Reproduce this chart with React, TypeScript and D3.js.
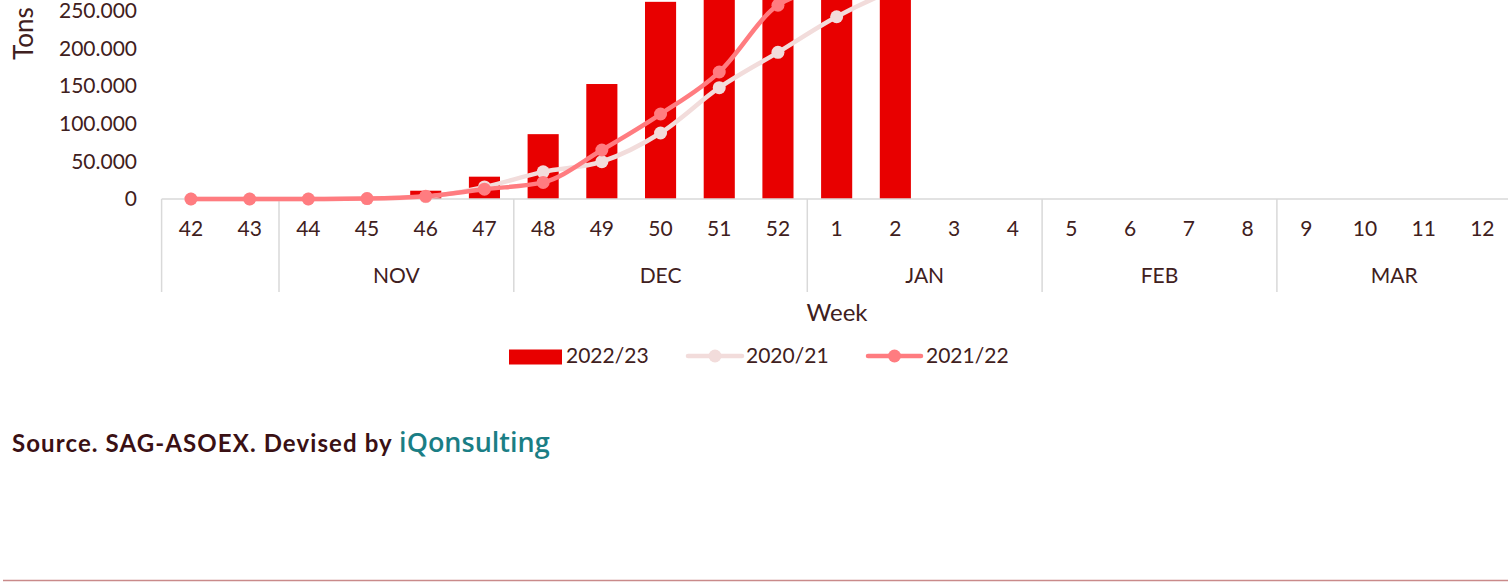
import React from "react";
import * as d3 from "d3";

const weeks = ["42","43","44","45","46","47","48","49","50","51","52","1","2","3","4","5","6","7","8","9","10","11","12"];
const months = ["", "NOV", "DEC", "JAN", "FEB", "MAR"];
const monthWeekCounts = [2, 4, 5, 4, 4, 4];
const yTicks = [0, 50000, 100000, 150000, 200000, 250000];

const season2223: (number | null)[] = [0, 0, 0, 0, 11000, 29600, 86000, 152500, 261500, 330000, 390000, 440000, 470000, null, null, null, null, null, null, null, null, null, null];
const season2021: number[] = [0, 0, 0, 500, 3000, 16000, 36000, 49500, 87500, 147600, 194500, 241700, 278000, 305000, 325000, 338000, 345000, 350000, 353000, 355000, 356000, 357000, 358000];
const season2122: number[] = [0, 0, 0, 500, 3500, 13000, 22000, 65000, 112700, 168400, 257000, 283000, 315000, 335000, 348000, 355000, 360000, 363000, 365000, 366000, 367000, 368000, 369000];

const TEXT = "#3F2020";
const RED = "#E80000";
const PINK = "#F2DCDB";
const SALMON = "#FF7C80";
const GRID = "#D9D9D9";
const FONT = "Lato, 'Open Sans', sans-serif";

export default function App() {
  const W = 1508, H = 582;
  const x0 = 161.6, x1 = 1511.7;
  const yZero = 199, yTop = 10.5;
  const xCat = d3.scaleBand<string>().domain(weeks).range([x0, x1]).padding(0);
  const xBar = d3.scaleBand<string>().domain(weeks).range([x0, x1]).paddingInner(0.47).paddingOuter(0.235);
  const y = d3.scaleLinear().domain([0, 250000]).range([yZero, yTop]);
  const fmt = (v: number) => (v === 0 ? "0" : d3.format(",")(v).replace(/,/g, "."));

  const line = d3.line<number>()
    .x((_, i) => (xCat(weeks[i]) as number) + xCat.bandwidth() / 2)
    .y((d) => y(d))
    .curve(d3.curveMonotoneX);

  const groups: { label: string; start: number; end: number }[] = [];
  let idx = 0;
  monthWeekCounts.forEach((c, gi) => {
    const start = xCat(weeks[idx]) as number;
    const end = idx + c < weeks.length ? (xCat(weeks[idx + c]) as number) : x1;
    groups.push({ label: months[gi], start, end });
    idx += c;
  });

  const cx = (w: string) => (xCat(w) as number) + xCat.bandwidth() / 2;

  return (
    <svg width={W} height={H} style={{ position: "absolute", left: 0, top: 0 }} fontFamily={FONT}>
      {yTicks.map((t) => (
        <text key={t} x={137} y={y(t)} dy="0.35em" textAnchor="end" fontSize={21} fill={TEXT}>{fmt(t)}</text>
      ))}
      <text transform={`translate(33,60) rotate(-90)`} textAnchor="start" fontSize={26} fill={TEXT}>Tons</text>

      {season2223.map((v, i) =>
        v == null || v === 0 ? null : (
          <rect key={i} x={xBar(weeks[i])} width={xBar.bandwidth()} y={y(v)} height={yZero - y(v)} fill={RED} />
        )
      )}

      <line x1={x0} x2={W} y1={yZero} y2={yZero} stroke={GRID} strokeWidth={1.5} />
      {groups.map((g, i) => (
        <line key={i} x1={g.start} x2={g.start} y1={yZero} y2={292} stroke={GRID} strokeWidth={1.5} />
      ))}

      <path d={line(season2021) || ""} fill="none" stroke={PINK} strokeWidth={4.5} strokeLinejoin="round" />
      {season2021.map((v, i) => (
        <circle key={i} cx={cx(weeks[i])} cy={y(v)} r={6.5} fill={PINK} />
      ))}
      <path d={line(season2122) || ""} fill="none" stroke={SALMON} strokeWidth={4.5} strokeLinejoin="round" />
      {season2122.map((v, i) => (
        <circle key={i} cx={cx(weeks[i])} cy={y(v)} r={6.5} fill={SALMON} />
      ))}

      {weeks.map((w) => (
        <text key={w} x={cx(w)} y={229} dy="0.35em" textAnchor="middle" fontSize={21} fill={TEXT}>{w}</text>
      ))}
      {groups.map((g, i) => (
        <text key={i} x={(g.start + g.end) / 2} y={276} dy="0.35em" textAnchor="middle" fontSize={21} fill={TEXT}>{g.label}</text>
      ))}
      <text x={837} y={313} dy="0.35em" textAnchor="middle" fontSize={24} fill={TEXT}>Week</text>

      <g fontSize={21} fill={TEXT}>
        <rect x={509} y={349.5} width={53} height={15} fill={RED} />
        <text x={566} y={356} dy="0.35em">2022/23</text>
        <line x1={688} x2={742} y1={356} y2={356} stroke={PINK} strokeWidth={4.5} strokeLinecap="round" />
        <circle cx={715} cy={356} r={6.5} fill={PINK} />
        <text x={746} y={356} dy="0.35em">2020/21</text>
        <line x1={868} x2={921} y1={356} y2={356} stroke={SALMON} strokeWidth={4.5} strokeLinecap="round" />
        <circle cx={894.5} cy={356} r={6.5} fill={SALMON} />
        <text x={926} y={356} dy="0.35em">2021/22</text>
      </g>

      <text x={12} y={452} fontSize={24} fontWeight="bold" letterSpacing={1.1} fill="#3A1014">
        Source. SAG-ASOEX. Devised by{" "}
        <tspan fill="#1A7E85" fontSize={27} letterSpacing={0} fontFamily="'Open Sans', sans-serif" fontWeight={600}>iQonsulting</tspan>
      </text>

      <line x1={3} x2={W} y1={580.5} y2={580.5} stroke="#C98A8A" strokeWidth={1.5} />
    </svg>
  );
}
